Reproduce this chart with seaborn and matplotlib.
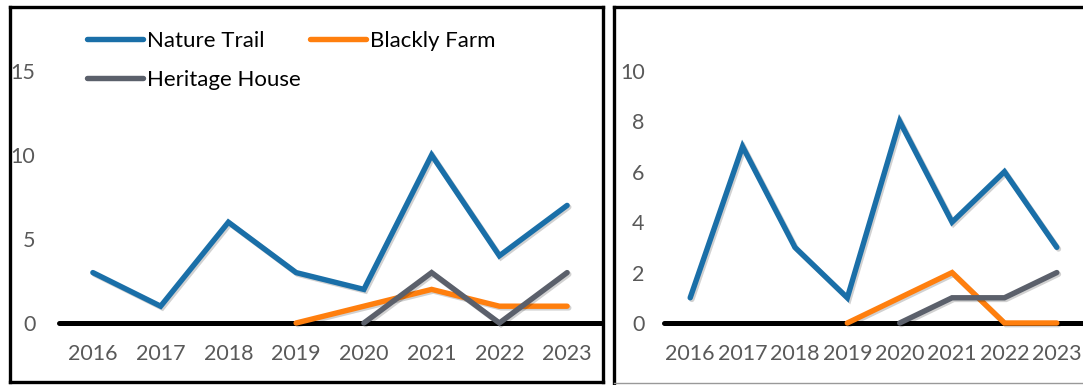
import matplotlib
matplotlib.use("Agg")
import matplotlib.pyplot as plt
import matplotlib.patheffects as pe
from matplotlib.lines import Line2D
import seaborn as sns
import pandas as pd

sns.set_style("white")
plt.rcParams['font.family'] = ['Lato', 'DejaVu Sans']

years = [2016, 2017, 2018, 2019, 2020, 2021, 2022, 2023]
series_names = ["Nature Trail", "Blackly Farm", "Heritage House"]
colors = {"Nature Trail": "#1a6fa8", "Blackly Farm": "#ff7f0e", "Heritage House": "#5b606b"}

# left panel
left_nature = [3, 1, 6, 3, 2, 10, 4, 7]
left_farm_years = [2019, 2020, 2021, 2022, 2023]
left_farm = [0, 1, 2, 1, 1]
left_house_years = [2020, 2021, 2022, 2023]
left_house = [0, 3, 0, 3]
left_yticks = [0, 5, 10, 15]

# right panel
right_nature = [1, 7, 3, 1, 8, 4, 6, 3]
right_farm_years = [2019, 2020, 2021, 2022, 2023]
right_farm = [0, 1, 2, 0, 0]
right_house_years = [2020, 2021, 2022, 2023]
right_house = [0, 1, 1, 2]
right_yticks = [0, 2, 4, 6, 8, 10]

W, H = 1083, 385
fig = plt.figure(figsize=(W / 100, H / 100), dpi=100)

def px_axes(x0, x1, y0, y1):
    # pixel coords (top-origin) -> figure fraction
    return fig.add_axes([x0 / W, 1 - y1 / H, (x1 - x0) / W, (y1 - y0) / H])

shadow = [pe.SimpleLineShadow(offset=(1.2, -1.2), alpha=0.18, shadow_color="black"), pe.Normal()]
LW = 3.9

def draw_panel(ax, nature, fy, fv, hy, hv, ylim_top, yticks, fs, ypad):
    df_n = pd.DataFrame({"year": years, "value": nature})
    df_f = pd.DataFrame({"year": fy, "value": fv})
    df_h = pd.DataFrame({"year": hy, "value": hv})
    ax.axhline(0, color="black", lw=3.6, zorder=1, clip_on=False)
    handles = {}
    for name, df in [("Nature Trail", df_n), ("Blackly Farm", df_f), ("Heritage House", df_h)]:
        sns.lineplot(data=df, x="year", y="value", ax=ax, color=colors[name], lw=LW,
                     legend=False, zorder=3)
        ln = ax.get_lines()[-1]
        ln.set_clip_on(False)
        ln.set_solid_capstyle("round")
        ln.set_solid_joinstyle("miter")
        ln.set_path_effects(shadow)
        handles[name] = Line2D([], [], color=colors[name], lw=LW, solid_capstyle="round")
    ax.set_xlim(2015.5, 2023.5)
    ax.set_ylim(0, ylim_top)
    ax.set_xticks(years)
    ax.set_xticklabels([str(y) for y in years])
    ax.set_yticks(yticks)
    ax.tick_params(axis="both", length=0, labelsize=fs, colors="#595959")
    ax.tick_params(axis="x", pad=15)
    ax.tick_params(axis="y", pad=ypad)
    ax.set_xlabel("")
    ax.set_ylabel("")
    for s in ax.spines.values():
        s.set_visible(False)
    ax.patch.set_alpha(0)
    return handles

axL = px_axes(59, 601, 29, 323)
hL = draw_panel(axL, left_nature, left_farm_years, left_farm, left_house_years, left_house,
                17.5, left_yticks, 15.5, 17)
axR = px_axes(664, 1083, 33, 323)
draw_panel(axR, right_nature, right_farm_years, right_farm, right_house_years, right_house,
           11.5, right_yticks, 15.5, 14)

order = ["Nature Trail", "Heritage House", "Blackly Farm"]
fig.legend([hL[n] for n in order], order, ncol=2, frameon=False, loc="upper left",
           bbox_to_anchor=(87 / W, 1 - 31 / H), bbox_transform=fig.transFigure,
           borderpad=0, borderaxespad=0, handlelength=2.5, handletextpad=0.18,
           columnspacing=0.45, labelspacing=0.85, fontsize=16, labelcolor="black")

# panel frames
def fl(x0, y0, x1, y1, color="black", lw=2.4):
    fig.add_artist(Line2D([x0 / W, x1 / W], [1 - y0 / H, 1 - y1 / H], color=color, lw=lw,
                          transform=fig.transFigure, solid_capstyle="projecting"))

fl(10, 7, 603, 7)
fl(10, 7, 10, 382)
fl(10, 382, 603, 382)
fl(603, 7, 603, 382)
fl(614, 7, 1090, 7)
fl(614, 7, 614, 390)
fl(614, 383, 1090, 383, color="#999999", lw=1)

fig.savefig("out.png", dpi=100)
